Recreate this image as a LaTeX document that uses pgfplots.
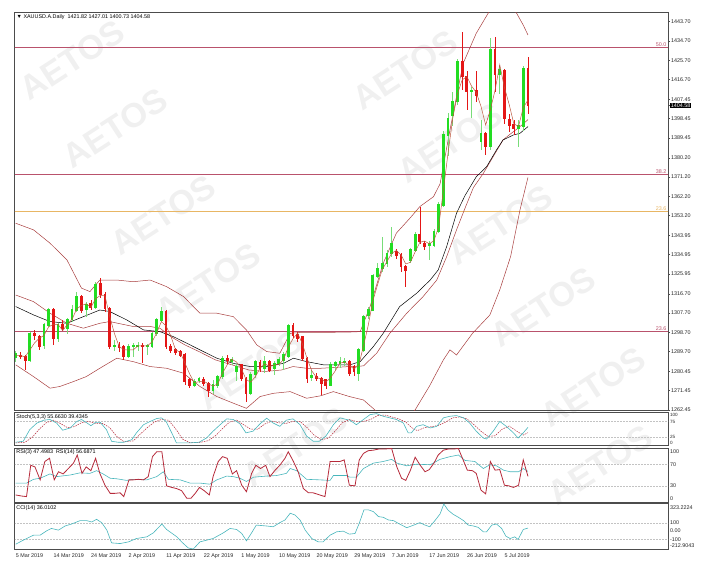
\documentclass[border=0pt]{standalone}
\usepackage{fontspec}
\setmainfont{Liberation Sans}
\usepackage{pgfplots}
\pgfplotsset{compat=1.18}
\usepackage{pgfplotstable}

\definecolor{cgreen}{RGB}{34,221,34}
\definecolor{cgwick}{RGB}{120,220,120}
\definecolor{cred}{RGB}{228,22,22}
\definecolor{bbred}{RGB}{168,62,62}
\definecolor{fastma}{RGB}{188,86,62}
\definecolor{fib}{RGB}{185,82,108}
\definecolor{fiborange}{RGB}{232,182,100}
\definecolor{tealc}{RGB}{72,182,188}
\definecolor{rsired}{RGB}{182,42,58}
\definecolor{lvlgray}{RGB}{195,195,195}
\definecolor{wm}{RGB}{240,240,240}

\newcommand{\sm}{\fontsize{5.4}{6.2}\selectfont}
\newcommand{\xs}{\fontsize{4.6}{5}\selectfont}

\pgfplotsset{
  mtpanel/.style={
    scale only axis, width=653pt,
    xmin=-0.15, xmax=138.8,
    axis line style={draw=black!70, line width=1pt},
    tick style={black!70, line width=0.4pt},
    tick align=outside, major tick length=2pt,
    ytick pos=right, yticklabel pos=right,
    xtick=\empty,
    ticklabel style={font=\sm, text=black!85},
    yticklabel style={inner sep=0.8pt},
  },
  lvl/.style={lvlgray, line width=0.4pt, dash pattern=on 1.5pt off 1.5pt},
  wick/.style={only marks, mark=*, mark size=0pt, mark options={draw=none, fill=none}, forget plot,
    error bars/.cd, y dir=both, y explicit, error mark=none},
}

% i open high low close
\pgfplotstableread{
i o h l c
0 1287.0 1290.0 1285.0 1288.5
3 1285.8 1299.0 1285.0 1298.2
6 1292.6 1303.0 1291.0 1302.1
7 1302.1 1310.0 1301.0 1309.1
9 1295.9 1303.0 1294.0 1302.1
11 1300.6 1305.5 1298.0 1304.6
12 1304.6 1311.5 1303.5 1309.1
13 1309.1 1317.5 1308.0 1315.3
15 1309.5 1313.0 1306.0 1311.5
17 1310.5 1322.0 1309.5 1320.8
21 1292.0 1295.0 1290.0 1292.6
24 1287.3 1293.0 1286.5 1292.0
25 1292.0 1293.5 1287.0 1292.3
26 1292.0 1294.0 1290.0 1292.5
28 1292.0 1293.0 1288.0 1292.4
29 1292.2 1299.0 1291.5 1298.2
30 1298.2 1305.5 1297.0 1304.5
31 1304.5 1310.7 1303.5 1308.4
38 1274.1 1277.0 1273.0 1275.7
39 1276.2 1278.0 1275.0 1277.0
42 1271.8 1276.5 1270.0 1274.1
43 1274.1 1279.0 1272.5 1278.0
44 1278.0 1287.5 1277.0 1286.6
46 1285.0 1287.0 1283.5 1285.8
47 1280.5 1284.0 1276.0 1282.7
50 1270.2 1280.0 1269.5 1278.8
51 1279.0 1286.0 1277.5 1285.0
53 1281.9 1287.5 1279.5 1285.0
55 1281.9 1285.5 1279.0 1284.2
56 1284.2 1287.0 1283.0 1285.8
57 1285.8 1289.5 1281.0 1288.1
58 1287.3 1302.5 1286.5 1301.6
63 1277.5 1281.0 1276.0 1278.5
67 1274.1 1285.0 1273.5 1283.4
68 1283.4 1285.5 1281.0 1284.5
69 1284.2 1287.0 1282.0 1285.0
70 1284.5 1286.5 1283.0 1285.0
73 1279.5 1291.5 1276.0 1290.4
74 1290.4 1307.0 1289.5 1306.0
75 1306.7 1310.5 1305.0 1309.1
76 1309.1 1326.0 1308.5 1325.0
77 1325.0 1331.0 1324.0 1328.5
78 1328.5 1343.3 1327.0 1330.9
79 1330.9 1337.0 1329.0 1335.6
80 1335.6 1348.0 1334.0 1340.2
84 1332.4 1338.0 1331.0 1337.1
85 1337.1 1345.5 1336.0 1344.1
88 1339.4 1341.5 1332.4 1340.2
89 1339.4 1347.0 1338.5 1345.7
90 1345.7 1359.5 1345.0 1358.1
91 1358.1 1392.5 1357.0 1390.8
92 1390.8 1401.0 1381.0 1398.6
93 1400.2 1411.0 1395.0 1406.4
94 1406.4 1426.5 1405.0 1425.1
97 1411.1 1413.0 1398.6 1411.5
99 1387.7 1398.0 1383.8 1391.6
101 1385.4 1436.0 1384.0 1430.8
103 1418.9 1423.5 1410.0 1421.2
107 1394.0 1398.0 1385.4 1395.0
108 1395.0 1423.0 1392.5 1421.8
}\upcandles

\pgfplotstableread{
i o h l c
1 1288.0 1289.5 1286.0 1287.3
2 1287.3 1288.0 1281.0 1285.8
4 1298.2 1300.0 1295.0 1297.2
5 1296.6 1297.5 1290.5 1292.3
8 1309.1 1310.0 1292.8 1295.9
10 1302.1 1304.5 1299.5 1300.6
14 1315.3 1316.0 1307.5 1309.1
16 1312.0 1314.0 1309.0 1310.5
18 1321.2 1323.9 1314.5 1316.5
19 1316.5 1317.5 1308.0 1309.9
20 1309.9 1310.5 1291.0 1292.0
22 1292.6 1294.0 1289.5 1291.8
23 1291.8 1293.0 1286.0 1287.3
27 1292.3 1293.5 1284.5 1292.0
32 1308.4 1309.0 1291.0 1292.0
33 1292.0 1293.0 1289.0 1290.5
34 1290.5 1291.5 1288.0 1289.4
35 1289.7 1290.5 1287.0 1288.1
36 1288.1 1289.0 1274.0 1275.7
37 1276.5 1277.5 1272.5 1274.1
40 1276.5 1278.0 1273.5 1274.9
41 1274.9 1275.5 1268.5 1271.8
45 1286.6 1288.0 1284.0 1285.8
48 1283.4 1284.0 1276.0 1277.2
49 1277.2 1278.0 1266.3 1270.2
52 1284.5 1286.0 1280.0 1281.9
54 1285.0 1286.0 1280.0 1281.1
59 1301.6 1302.9 1296.0 1297.4
60 1297.4 1299.0 1294.0 1295.9
61 1296.6 1297.0 1285.5 1286.5
62 1286.5 1287.0 1274.9 1277.2
64 1277.9 1279.5 1276.0 1277.2
65 1277.2 1278.0 1269.5 1274.9
66 1276.5 1277.0 1272.0 1274.1
71 1285.0 1286.0 1278.5 1279.5
72 1282.7 1283.5 1278.5 1280.4
81 1336.3 1337.5 1333.0 1334.8
82 1334.8 1335.5 1327.0 1329.3
83 1329.3 1330.0 1320.0 1327.8
86 1344.1 1357.3 1340.0 1341.0
87 1340.2 1341.5 1337.0 1338.7
95 1425.1 1439.1 1412.0 1418.1
96 1418.1 1420.5 1402.5 1411.1
98 1411.5 1420.5 1406.0 1409.5
100 1391.6 1392.0 1381.5 1385.4
102 1430.8 1436.7 1411.0 1418.9
104 1420.7 1421.5 1396.0 1398.6
105 1398.2 1400.5 1392.0 1395.5
106 1395.5 1398.0 1391.0 1394.0
109 1421.82 1427.01 1400.73 1404.58
}\downcandles

\begin{document}
\begin{tikzpicture}
\useasboundingbox (0,0) rectangle (701pt,565pt);

% watermark
\foreach \x/\y in {72/505,115/437,163/350,208/282,250/195,295/118,405/495,450/422,500/340,543/258,593/178,600/100}
  \node[rotate=33, text=wm, font={\fontsize{34}{34}\selectfont\bfseries}] at (\x pt,\y pt) {AETOS};

%% price panel
\begin{axis}[mtpanel, at={(15pt,154pt)}, anchor=south west, height=398.3pt,
  ymin=1261.95, ymax=1447.9,
  ytick={1262.45,1271.45,1280.45,1289.70,1298.70,1307.70,1316.70,1325.95,1334.95,1343.95,1353.20,1362.20,1371.20,1380.20,1389.45,1398.45,1407.45,1416.70,1425.70,1434.70,1443.70},
  yticklabels={1262.45,1271.45,1280.45,1289.70,1298.70,1307.70,1316.70,1325.95,1334.95,1343.95,1353.20,1362.20,1371.20,1380.20,1389.45,1398.45,1407.45,1416.70,1425.70,1434.70,1443.70},
  extra y ticks={1404.58}, extra y tick labels={1404.58},
  extra y tick style={yticklabel style={fill=black, text=white, inner sep=0.7pt}},
]
% fibonacci levels
\addplot[fib, line width=0.6pt] coordinates {(-1,1431.8) (140,1431.8)};
\addplot[fib, line width=0.6pt] coordinates {(-1,1372.5) (140,1372.5)};
\addplot[fiborange, line width=0.6pt] coordinates {(-1,1355.0) (140,1355.0)};
\addplot[fib, line width=0.6pt] coordinates {(-1,1299.0) (140,1299.0)};
\node[anchor=south east, font=\sm, text=fib, inner sep=0.6pt] at (axis cs:138.6,1431.8) {50.0};
\node[anchor=south east, font=\sm, text=fib, inner sep=0.6pt] at (axis cs:138.6,1372.5) {38.2};
\node[anchor=south east, font=\sm, text=fiborange, inner sep=0.6pt] at (axis cs:138.6,1355.0) {23.6};
\node[anchor=south east, font=\sm, text=fib, inner sep=0.6pt] at (axis cs:138.6,1299.0) {23.6};

% bollinger bands
\addplot[bbred, line width=0.5pt] coordinates {
(0,1349.6) (3.8,1346.5) (7.3,1340.3) (10.9,1332.5) (14,1319.3) (15.8,1317.7) (17.9,1323.1) (21.5,1323.1)
(25,1322.3) (28.6,1323.1) (32.1,1320) (35.7,1315.4) (39.2,1307.6) (42.8,1307.6) (46.3,1306) (49.1,1299.8)
(51.3,1292.8) (53.4,1289.7) (56.2,1288.9) (58.4,1298.2) (60.5,1298.6) (64,1298.6) (71,1298.8) (73.3,1299)
(75.4,1310.7) (78.2,1330.9) (81,1345) (83.9,1352) (86,1357.4) (88.9,1362) (90.3,1368) (92.4,1393.1)
(95.2,1424.2) (98,1438.3) (100.9,1449) (103,1455) (105,1452) (106.6,1447.6) (108,1442.1) (109,1437.5)};
\addplot[bbred, line width=0.5pt] coordinates {
(0,1316.1) (3.8,1313) (7.3,1307.6) (10.9,1302.9) (14.4,1300.6) (17.9,1302.9) (20,1303.7) (25,1301.4)
(28.6,1301.4) (30.7,1300.6) (33,1296.7) (36,1292.8) (39,1289.7) (42.5,1285.8) (46,1283.5) (49.6,1281.1)
(53,1280.4) (56.6,1281.1) (59,1282.7) (61.9,1281.9) (65,1281.9) (71,1282.7) (74,1283) (76.8,1288.9)
(79.6,1298.2) (83.2,1307.6) (86.7,1315.4) (89.6,1323.1) (91.7,1334) (93.8,1346.5) (95.6,1356.6)
(97.4,1366.3) (99.5,1372.9) (101.6,1380.7) (103.7,1388.5) (105.1,1391) (106.6,1393.5) (108,1396) (109,1398)};
\addplot[bbred, line width=0.5pt] coordinates {
(0,1283.5) (3.8,1278) (7.3,1272.6) (9.4,1273.4) (12.3,1275.7) (15,1278) (17.9,1281.9) (21.5,1286.6)
(25,1285) (28.6,1282.7) (32.1,1281.9) (35.7,1279.6) (39.2,1273.4) (42.8,1268.7) (46.3,1265.6) (49.1,1263.2)
(52,1268.7) (54.8,1270.2) (58.4,1271) (61.9,1267.9) (64.8,1269) (67.6,1271) (71,1268.7) (74,1267.1)
(76.4,1262.5) (78,1258) (82,1255) (85,1262.5) (88,1273.4) (91,1285.8) (92.4,1290.5) (93.8,1288.1)
(97.2,1298.2) (100.9,1306.8) (103,1318.5) (105.3,1334) (107.3,1355.8) (109,1371)};
% slow moving average
\addplot[black, line width=0.5pt] coordinates {
(0,1310.7) (3.8,1306.8) (7.3,1303.7) (10.9,1302.9) (14.4,1306) (17.9,1309.1) (20,1308.4) (23.6,1304.5)
(27.2,1299.8) (30.7,1299) (33.5,1296.7) (36.4,1293.6) (39.2,1290.5) (42.8,1286.6) (46.3,1284.2) (49.9,1282.7)
(53.4,1282.7) (57,1284.2) (59.1,1286.6) (61.9,1285) (65.5,1283.5) (71.1,1283.5) (73.3,1285) (76.1,1292)
(78.2,1298.2) (81.7,1310.7) (85.3,1316.9) (88.2,1323.1) (89.9,1327.8) (91.7,1338.7) (93.8,1354.3)
(95.6,1362.5) (98,1371.3) (100.2,1376) (102.3,1383.8) (103.7,1388.5) (105.9,1390.8) (107.3,1391.6) (109,1394.7)};

% candles: wicks then bodies
\addplot[wick, error bar style={draw=cgwick, line width=0.6pt}]
  table[x=i, y expr={(\thisrow{h}+\thisrow{l})/2}, y error expr={(\thisrow{h}-\thisrow{l})/2}] {\upcandles};
\addplot[wick, error bar style={draw=cred, line width=0.6pt}]
  table[x=i, y expr={(\thisrow{h}+\thisrow{l})/2}, y error expr={(\thisrow{h}-\thisrow{l})/2}] {\downcandles};
\addplot[wick, error bar style={draw=cgreen, line width=2.8pt}]
  table[x=i, y expr={(\thisrow{o}+\thisrow{c})/2}, y error expr={abs(\thisrow{c}-\thisrow{o})/2+0.3}] {\upcandles};
\addplot[wick, error bar style={draw=cred, line width=2.8pt}]
  table[x=i, y expr={(\thisrow{o}+\thisrow{c})/2}, y error expr={abs(\thisrow{c}-\thisrow{o})/2+0.3}] {\downcandles};

% fast moving average
\addplot[fastma, line width=0.5pt] coordinates {
(0,1288.0) (1,1287.9) (2,1287.2) (3,1290.4) (4,1293.7) (5,1295.9) (6,1297.2) (7,1301.2) (8,1302.4) (9,1302.4)
(10,1299.5) (11,1302.4) (12,1304.8) (13,1309.7) (14,1311.2) (15,1312.0) (16,1310.4) (17,1314.3) (18,1315.9) (19,1315.7)
(20,1306.1) (21,1298.2) (22,1292.1) (23,1290.6) (24,1290.4) (25,1290.5) (26,1292.3) (27,1292.3) (28,1292.3) (29,1294.2)
(30,1298.4) (31,1303.7) (32,1301.6) (33,1297.0) (34,1290.6) (35,1289.3) (36,1284.4) (37,1279.3) (38,1275.2) (39,1275.6)
(40,1275.9) (41,1274.6) (42,1273.6) (43,1274.6) (44,1279.6) (45,1283.5) (46,1286.1) (47,1284.8) (48,1281.9) (49,1276.7)
(50,1275.4) (51,1278.0) (52,1281.9) (53,1284.0) (54,1282.7) (55,1283.4) (56,1283.7) (57,1286.0) (58,1291.8) (59,1295.7)
(60,1298.3) (61,1293.3) (62,1286.5) (63,1280.7) (64,1277.6) (65,1276.9) (66,1275.4) (67,1277.5) (68,1280.7) (69,1284.3)
(70,1284.8) (71,1283.2) (72,1281.6) (73,1283.4) (74,1292.3) (75,1301.8) (76,1313.4) (77,1320.9) (78,1328.1) (79,1331.7)
(80,1335.6) (81,1336.9) (82,1334.8) (83,1330.6) (84,1331.4) (85,1336.3) (86,1340.7) (87,1341.3) (88,1340.0) (89,1341.5)
(90,1348.0) (91,1364.9) (92,1382.5) (93,1398.6) (94,1410.0) (95,1416.5) (96,1418.1) (97,1413.6) (98,1410.7) (99,1404.2)
(100,1395.5) (101,1402.6) (102,1411.7) (103,1423.6) (104,1412.9) (105,1405.1) (106,1396.0) (107,1394.8) (108,1403.6) (109,1407.1)};

\node[anchor=north west, font=\sm, inner sep=1.5pt] at (rel axis cs:0,1) {▼ XAUUSD.A.Daily\ \ 1421.82 1427.01 1400.73 1404.58};
\end{axis}

%% stochastic
\begin{axis}[mtpanel, at={(15pt,119.5pt)}, anchor=south west, height=32.5pt,
  ymin=0, ymax=100, ytick={8,27,73,93}, yticklabels={0,25,75,100},
  yticklabel style={font=\xs, inner sep=0pt, xshift=0.8pt},
  major tick length=1pt]
\addplot[lvl] coordinates {(-1,75) (140,75)};
\addplot[lvl] coordinates {(-1,25) (140,25)};
\addplot[rsired, line width=0.5pt, dash pattern=on 1.5pt off 1pt] coordinates {
(0,8) (2,10) (3.5,25) (5,50) (6.5,70) (8,78) (9.5,68) (11,55) (12.5,58) (14,70) (15.5,74) (17,68) (18.5,68)
(20,55) (21.5,28) (23,12) (25,14) (26.5,35) (28,55) (29.5,72) (31,80) (32.5,78) (34,52) (35.5,20) (37,9)
(39,9) (41,15) (42.5,30) (44,52) (45.5,72) (47,78) (48.5,64) (50,50) (51.5,50) (53,66) (54.5,75) (56,70)
(57.5,68) (59,74) (60.5,74) (62,55) (63.5,32) (65,18) (66.5,22) (68,45) (69.5,70) (71,80) (72.5,74) (74,74)
(75.5,80) (77,92) (78.5,94) (80,88) (81.5,82) (83,72) (84.5,52) (85.5,46) (87,55) (88.5,58) (90,62) (91.5,72)
(93,85) (94.5,88) (96,82) (97.5,64) (99,44) (100.5,28) (102,30) (103.5,50) (105,60) (106.5,45) (108,32) (109,39.43)};
\addplot[tealc, line width=0.6pt] coordinates {
(0,10) (1.6,13) (3,49) (4.5,69) (6,78) (7.3,80) (8.7,69) (10,47) (11.6,54) (13,74) (14,80) (15,71) (16,61)
(17,71) (18,71) (19.3,49) (20.4,13) (21.8,10) (23,10) (24.7,18) (25.7,39) (27.2,64) (28.6,74) (30,83) (31,85)
(32,74) (33.2,39) (34.2,8) (35.3,8) (37,8) (39,10) (40.6,23) (42,44) (43.5,64) (44.9,82) (46.3,80) (47.7,67)
(49,39) (50.5,44) (52,67) (53.4,84) (54.8,69) (56.2,59) (57.6,78) (59,82) (60.5,64) (61.9,29) (63.3,13)
(64.6,13) (66,29) (67.6,64) (69,85) (70.4,80) (71.1,78) (72.5,64) (74,80) (75.4,95) (76.8,98) (78.2,90)
(79.6,85) (81,80) (82.5,69) (83.5,39) (84.2,39) (85.3,59) (86.7,64) (88.2,54) (89.6,59) (91,85) (92.4,90)
(93.8,92) (95.3,85) (96.6,69) (98,44) (99.5,23) (100.2,20) (101.6,44) (103,74) (104.4,59) (105.9,39)
(106.9,23) (108,39) (109,55.66)};
\node[anchor=north west, font=\sm, inner sep=1.2pt] at (rel axis cs:0,1) {Stoch(5,3,3) 55.6630 39.4345};
\end{axis}

%% RSI
\begin{axis}[mtpanel, at={(15pt,63pt)}, anchor=south west, height=54pt,
  ymin=0, ymax=100, ytick={5.6,30,70,93}, yticklabels={0,30,70,100},
  major tick length=1pt]
\addplot[lvl] coordinates {(-1,70) (140,70)};
\addplot[lvl] coordinates {(-1,30) (140,30)};
\addplot[tealc, line width=0.6pt] coordinates {
(0,35) (2.3,35) (3.8,42) (5.2,44) (7.3,52) (8.7,47) (11.6,50) (13.7,54) (15.8,53) (17.2,58) (18.6,52)
(20.1,44) (21.5,43) (23.6,40) (25,42) (27.9,41) (30,47) (31.4,56) (32.5,42) (35,41) (37.1,35) (39.2,35)
(41.3,33) (42.8,41) (44.9,48) (46.3,47) (47.7,44) (49.1,38) (50.6,46) (53.4,48) (55.5,49) (57.6,53)
(58.4,62) (59.8,58) (61.9,42) (64.7,41) (66.9,40) (67.6,49) (70.4,49) (71.1,46) (72.5,46) (74,62) (76.1,72)
(78.2,75) (80,79) (81.1,72) (83.2,67) (85.3,70) (88.2,69) (90.3,79) (92.4,84) (94.2,87) (95.6,77) (97.7,75)
(99.5,62) (100.9,69) (102.3,67) (103.8,59) (105.2,56) (107,56) (108,62) (109,56.69)};
\addplot[rsired, line width=0.8pt] coordinates {
(0,13) (1.3,11) (2.3,10) (3.2,68) (4.1,65) (5.2,41) (6.2,75) (7.2,81) (8.2,41) (9.1,56) (10.1,52) (11.2,62)
(12.3,72) (13.1,87) (14.1,53) (15,65) (16,58) (17,81) (17.9,53) (19,31) (20.1,16) (21.1,16) (22.2,17) (23,10)
(24.1,41) (25,41) (26.1,42) (27.2,41) (28.2,47) (29.1,84) (30,93) (31.1,93) (32.1,30) (33.2,27) (34.2,25)
(35.3,21) (36.4,7) (37.3,7) (38.2,16) (39.1,27) (40.1,21) (41.2,13) (42,47) (43.1,75) (44,84) (45,81) (46.1,52)
(47,58) (48.1,31) (49.1,19) (50.2,53) (51.1,68) (52.1,62) (53.2,68) (54.1,47) (55.2,59) (56.2,68) (57.3,81)
(58,93) (59.1,75) (60.1,56) (61.2,25) (62.3,17) (63.3,17) (64.7,13) (65.8,10) (66.9,75) (67.9,75) (69,75)
(69.9,78) (71,31) (72.2,30) (73.1,78) (74,90) (75,95) (76.1,96) (77.2,98) (78.2,98) (80,99) (81.1,65) (82.1,44)
(83,40) (84,59) (85,83) (86,69) (87.1,56) (88,60) (89,72) (89.9,87) (91,96) (92,98) (93.1,98) (94.2,99) (95.2,78)
(96.1,59) (97.2,58) (98,53) (99,22) (100,15) (101,75) (102,59) (103,60) (104,31) (104.9,30) (105.9,27) (107,31)
(108,78) (109,47.5)};
\node[anchor=north west, font=\sm, inner sep=1.2pt] at (rel axis cs:0,1) {RSI(3) 47.4983\ \ RSI(14) 56.6871};
\end{axis}

%% CCI
\begin{axis}[mtpanel, at={(15pt,16pt)}, anchor=south west, height=45pt,
  ymin=-212.9043, ymax=323.2224,
  ytick={-170,-100,0,100,274}, yticklabels={-212.9043,-100,0.00,100,323.2224},
  yticklabel style={inner sep=0.2pt, xshift=0.6pt},
  major tick length=1pt,
  xtick={0,8,...,104}, xtick pos=bottom,
  xticklabels={5 Mar 2019,14 Mar 2019,24 Mar 2019,2 Apr 2019,11 Apr 2019,22 Apr 2019,1 May 2019,10 May 2019,20 May 2019,29 May 2019,7 Jun 2019,17 Jun 2019,26 Jun 2019,5 Jul 2019},
  xticklabel style={anchor=north west, inner sep=0.5pt, text height=4pt, text depth=1pt, xshift=-0.5pt, yshift=-2.5pt}]
\addplot[lvl] coordinates {(-1,100) (140,100)};
\addplot[lvl] coordinates {(-1,-100) (140,-100)};
\addplot[tealc, line width=0.6pt] coordinates {
(0,-156) (1.6,-108) (3.8,-48) (5.2,-48) (6.6,4) (7.6,32) (9.1,12) (10.5,61) (11.9,85) (13.7,125) (15.1,125)
(16.2,109) (17.2,141) (18.3,101) (19.4,12) (20.4,-140) (22.2,-148) (24,-128) (25.7,-88) (27.9,-68) (29.3,-20)
(31.1,85) (32.1,20) (34.3,-68) (35.3,-128) (36.7,-200) (37.8,-212.9) (39.2,-128) (40.6,-108) (42,-88)
(44.2,-20) (45.6,32) (47,20) (48.1,-28) (49.1,-116) (50.2,-20) (51.2,72) (53.4,61) (54.8,52) (56.2,101)
(57.3,133) (58.4,213) (59.4,193) (60.5,133) (61.6,12) (63,-88) (64.4,-128) (65.4,-128) (66.9,-48) (68.3,-8)
(69.7,0) (71,-36) (72.2,-28) (73.1,93) (74.1,254) (75,254) (76.1,233) (77.2,173) (78.2,165) (79.3,133)
(80.4,125) (81.4,93) (83.2,41) (84.2,61) (86,101) (87.1,72) (88.1,52) (89.2,125) (90.3,205) (91.1,323.2)
(92,250) (93.1,200) (94.2,165) (95.3,125) (96.3,72) (97.4,61) (98.4,45) (99.5,-8) (100.2,-8) (101.3,72)
(102.3,85) (103.4,32) (104.3,-60) (105.2,-88) (106.2,-68) (106.9,-100) (108,20) (109,36)};
\node[anchor=north west, font=\sm, inner sep=1.2pt] at (rel axis cs:0,1) {CCI(14) 36.0102};
\end{axis}
\end{tikzpicture}
\end{document}
